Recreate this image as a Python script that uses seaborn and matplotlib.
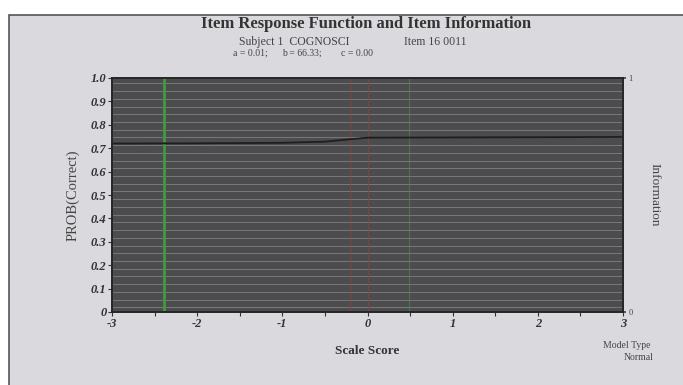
import numpy as np
import pandas as pd
import seaborn as sns
import matplotlib.pyplot as plt
from matplotlib.patches import Rectangle

# values
scale_score = [-3.0, -2.0, -1.0, -0.5, 0.0, 1.0, 2.0, 3.0]
prob_correct = [0.720, 0.721, 0.723, 0.728, 0.745, 0.746, 0.747, 0.748]
information = [0.0, 0.0, 0.0, 0.0, 0.0, 0.0, 0.0, 0.0]
green_marks = [-2.39, 0.49]
red_marks = [-0.21, 0.0]
x_ticks = [-3, -2, -1, 0, 1, 2, 3]
y_ticks = [0, 0.1, 0.2, 0.3, 0.4, 0.5, 0.6, 0.7, 0.8, 0.9, 1.0]
y_labels = ['0', '0.1', '0.2', '0.3', '0.4', '0.5', '0.6', '0.7', '0.8', '0.9', '1.0']

df = pd.DataFrame({'Scale Score': scale_score, 'PROB': prob_correct, 'Info': information})

sns.set_theme(style='white')
plt.rcParams['font.family'] = ['Liberation Serif', 'DejaVu Serif']

fig = plt.figure(figsize=(6.83, 3.85), dpi=100)
fig.patch.set_facecolor('white')
# scanned chart frame
frame = Rectangle((9 / 683, -0.01), 1.0, 1 - 15 / 385 + 0.01, transform=fig.transFigure,
                  facecolor='#dadade', edgecolor='#555555', linewidth=1.2, zorder=-10)
fig.add_artist(frame)

ax = fig.add_axes([112 / 683, 73 / 385, 511 / 683, 234 / 385])
ax.set_zorder(5)
ax.set_facecolor('#4c4c4e')

# scan-line texture
for yy in np.arange(0.02, 1.0, 0.033):
    ax.axhline(yy, color='#b0b0b4', lw=0.7, alpha=0.45, zorder=1)

for xv in green_marks:
    ax.axvline(xv, color='#3f9a3f', lw=2.0 if xv < -1 else 0.7, alpha=1.0 if xv < -1 else 0.6, zorder=2)
for xv in red_marks:
    ax.axvline(xv, color='#8a4444', lw=0.7, alpha=0.8, zorder=2)

sns.lineplot(data=df, x='Scale Score', y='PROB', ax=ax, color='#1e1e1e', lw=1.3, zorder=3)

ax.set_xlim(-3, 3)
ax.set_ylim(0, 1)
ax.set_xticks(x_ticks)
ax.set_xticklabels([str(t) for t in x_ticks])
ax.set_xticks(np.arange(-2.5, 3, 1.0), minor=True)
ax.set_yticks(y_ticks)
ax.set_yticklabels(y_labels)
ax.tick_params(axis='both', which='both', direction='out', length=3, width=0.8, colors='#333333',
               labelsize=9, pad=1, bottom=True, left=True)
for lab in ax.get_xticklabels() + ax.get_yticklabels():
    lab.set_fontweight('bold')
    lab.set_fontstyle('italic')
ax.set_xlabel('Scale Score', fontsize=9.5, fontweight='bold', color='#333333', labelpad=11)
ax.set_ylabel('PROB(Correct)', fontsize=10.5, color='#444444', labelpad=8)
for s in ax.spines.values():
    s.set_color('#2a2a2a')

ax2 = ax.twinx()
ax2.set_zorder(6)
ax2.patch.set_visible(False)
sns.lineplot(data=df, x='Scale Score', y='Info', ax=ax2, color='#4c4c4e', lw=0.8)
ax2.set_ylim(0, 1)
ax2.set_yticks([0, 1])
ax2.set_yticklabels(['0', '1'])
ax2.tick_params(axis='y', labelsize=6, length=2, pad=2, colors='#444444', right=True)
ax2.set_ylabel('Information', fontsize=9.5, color='#444444', rotation=-90, labelpad=20)
ax2.grid(False)

fig.text(366 / 683, 1 - 24 / 385, 'Item Response Function and Item Information',
         ha='center', va='center', fontsize=12, fontweight='bold', color='#333333')
fig.text(294 / 683, 1 - 42 / 385, 'Subject 1  COGNOSCI', ha='center', va='center', fontsize=8.5, color='#444444')
fig.text(435 / 683, 1 - 42 / 385, 'Item 16 0011', ha='center', va='center', fontsize=8.5, color='#444444')
fig.text(250 / 683, 1 - 53 / 385, 'a = 0.01;', ha='center', va='center', fontsize=7, color='#444444')
fig.text(302 / 683, 1 - 53 / 385, 'b = 66.33;', ha='center', va='center', fontsize=7, color='#444444')
fig.text(357 / 683, 1 - 53 / 385, 'c = 0.00', ha='center', va='center', fontsize=7, color='#444444')
fig.text(627 / 683, 1 - 346 / 385, 'Model Type', ha='center', va='center', fontsize=7, color='#444444')
fig.text(639 / 683, 1 - 358 / 385, 'Normal', ha='center', va='center', fontsize=7, color='#444444')

fig.savefig('out.png', dpi=100, facecolor=fig.get_facecolor())
